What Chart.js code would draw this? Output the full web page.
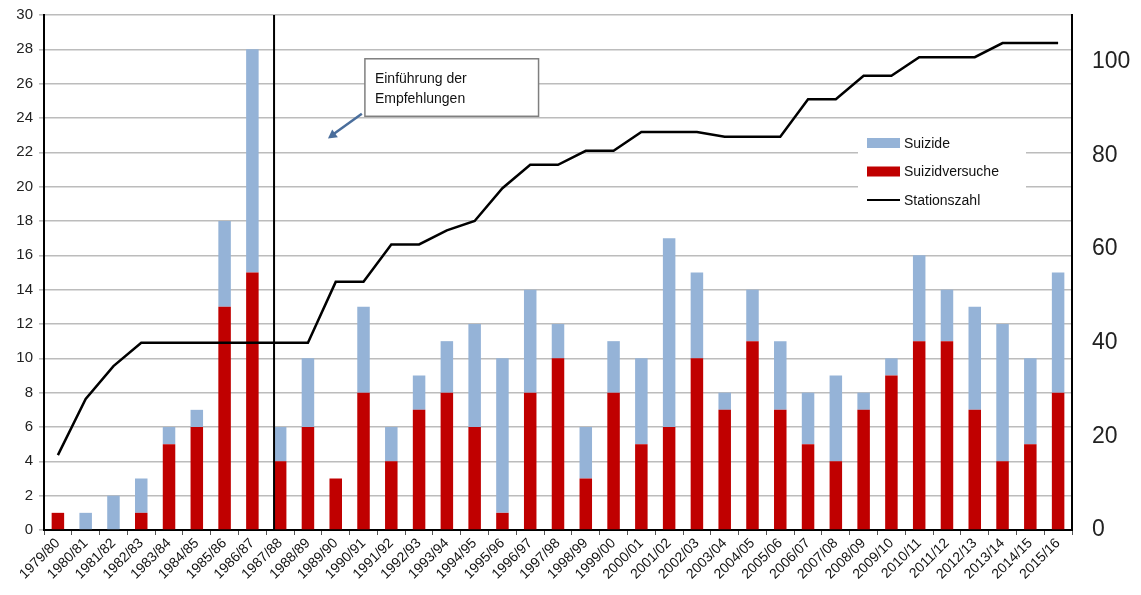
<!DOCTYPE html>
<html>
<head>
<meta charset="utf-8">
<script src="https://cdn.jsdelivr.net/npm/chart.js@4/dist/chart.umd.min.js"></script>
<style>
  html, body { margin: 0; padding: 0; background: #fff; }
  #wrap { width: 1141px; height: 595px; position: relative; }
</style>
</head>
<body>
<div id="wrap"><canvas id="suizidChart"></canvas></div>
<script>
const seasons = ["1979/80","1980/81","1981/82","1982/83","1983/84","1984/85","1985/86","1986/87","1987/88","1988/89",
  "1989/90","1990/91","1991/92","1992/93","1993/94","1994/95","1995/96","1996/97","1997/98","1998/99",
  "1999/00","2000/01","2001/02","2002/03","2003/04","2004/05","2005/06","2006/07","2007/08","2008/09",
  "2009/10","2010/11","2011/12","2012/13","2013/14","2014/15","2015/16"];
const suizidversuche = [1,0,0,1,5,6,13,15,4,6, 3,8,4,7,8,6,1,8,10,3, 8,5,6,10,7,11,7,5,4,7, 9,11,11,7,4,5,8];
const suizide = [0,1,2,2,1,1,5,13,2,4, 0,5,2,2,3,6,9,6,2,3, 3,5,11,5,1,3,4,3,5,1, 1,5,3,6,8,5,7];
const stationszahl = [16,28,35,40,40,40,40,40,40,40, 53,53,61,61,64,66,73,78,78,81, 81,85,85,85,84,84,84,92,92,97, 97,101,101,101,104,104,104];
const leftTicks = { min: 0, max: 30, step: 2 };
const rightTicks = { min: 0, max: 110, step: 20, shownMax: 100 };
const introIndex = 7.78; // Einführung der Empfehlungen
const noteText = ["Einführung der", "Empfehlungen"];

const fontName = "'Liberation Sans', Arial, sans-serif";

// vertical marker line, annotation box with arrow, legend inside plot
const overlayPlugin = {
  id: "overlay",
  afterDatasetsDraw(chart) {
    const ctx = chart.ctx;
    const x = chart.scales.x, y = chart.scales.y;
    const area = chart.chartArea;
    ctx.save();

    // Einführung line
    let lx = x.getPixelForValue(introIndex);
    ctx.strokeStyle = "#000";
    ctx.lineWidth = 2;
    ctx.beginPath();
    ctx.moveTo(lx, area.top);
    ctx.lineTo(lx, area.bottom);
    ctx.stroke();

    // note box
    let bx1 = x.getPixelForValue(11.05), bx2 = x.getPixelForValue(17.3);
    let by1 = y.getPixelForValue(27.45), by2 = y.getPixelForValue(24.1);
    ctx.fillStyle = "#fff";
    ctx.fillRect(bx1, by1, bx2 - bx1, by2 - by1);
    ctx.strokeStyle = "#7f7f7f";
    ctx.lineWidth = 1.5;
    ctx.strokeRect(bx1, by1, bx2 - bx1, by2 - by1);
    ctx.fillStyle = "#111";
    ctx.font = "14px " + fontName;
    ctx.textBaseline = "middle";
    ctx.textAlign = "left";
    ctx.fillText(noteText[0], bx1 + 10, by1 + 20);
    ctx.fillText(noteText[1], bx1 + 10, by1 + 40);

    // arrow
    let ax1 = x.getPixelForValue(10.94), ay1 = y.getPixelForValue(24.25);
    let ax2 = x.getPixelForValue(9.72), ay2 = y.getPixelForValue(22.8);
    ctx.strokeStyle = "#4a6e9c";
    ctx.fillStyle = "#4a6e9c";
    ctx.lineWidth = 2.5;
    ctx.beginPath();
    ctx.moveTo(ax1, ay1);
    ctx.lineTo(ax2 + 5, ay2 - 4);
    ctx.stroke();
    let ang = Math.atan2(ay2 - ay1, ax2 - ax1);
    ctx.beginPath();
    ctx.moveTo(ax2, ay2);
    ctx.lineTo(ax2 - 10 * Math.cos(ang - 0.5), ay2 - 10 * Math.sin(ang - 0.5));
    ctx.lineTo(ax2 - 10 * Math.cos(ang + 0.5), ay2 - 10 * Math.sin(ang + 0.5));
    ctx.closePath();
    ctx.fill();

    // legend
    let lgX = area.right - 214, lgY = area.top + 114;
    ctx.fillStyle = "#fff";
    ctx.fillRect(lgX, lgY, 168, 84);
    ctx.font = "14px " + fontName;
    ctx.textBaseline = "middle";
    let items = [
      { ds: chart.data.datasets[2], kind: "box" },
      { ds: chart.data.datasets[1], kind: "box" },
      { ds: chart.data.datasets[0], kind: "line" }
    ];
    items.forEach(function (it, i) {
      let cy = lgY + 14 + i * 28.5;
      if (it.kind === "box") {
        ctx.fillStyle = it.ds.backgroundColor;
        ctx.fillRect(lgX + 9, cy - 5, 33, 10);
      } else {
        ctx.strokeStyle = it.ds.borderColor;
        ctx.lineWidth = 2;
        ctx.beginPath();
        ctx.moveTo(lgX + 9, cy);
        ctx.lineTo(lgX + 42, cy);
        ctx.stroke();
      }
      ctx.fillStyle = "#111";
      ctx.fillText(it.ds.label, lgX + 46, cy + 1);
    });
    ctx.restore();
  }
};

const ctx = document.getElementById("suizidChart").getContext("2d");
new Chart(ctx, {
  data: {
    labels: seasons,
    datasets: [
      {
        type: "line",
        label: "Stationszahl",
        data: stationszahl,
        yAxisID: "y1",
        borderColor: "#000",
        borderWidth: 2.5,
        pointRadius: 0,
        tension: 0,
        order: 0
      },
      {
        type: "bar",
        label: "Suizidversuche",
        data: suizidversuche,
        yAxisID: "y",
        backgroundColor: "#c00000",
        stack: "s",
        order: 1,
        barPercentage: 0.45,
        categoryPercentage: 1
      },
      {
        type: "bar",
        label: "Suizide",
        data: suizide,
        yAxisID: "y",
        backgroundColor: "#95b3d7",
        stack: "s",
        order: 1,
        barPercentage: 0.45,
        categoryPercentage: 1
      }
    ]
  },
  options: {
    responsive: true,
    maintainAspectRatio: false,
    animation: false,
    layout: { padding: { top: 14, left: 0, right: 0, bottom: 0 } },
    plugins: {
      legend: { display: false },
      tooltip: { enabled: false }
    },
    scales: {
      x: {
        stacked: true,
        grid: { drawOnChartArea: false, drawTicks: true, tickLength: 5, color: "#555" },
        border: { color: "#000", width: 2 },
        ticks: {
          minRotation: 45, maxRotation: 45, autoSkip: false, padding: 0,
          color: "#111", font: { family: fontName, size: 14 }
        },
        afterFit: function (scale) { scale.height = 65; }
      },
      y: {
        stacked: true,
        position: "left",
        min: leftTicks.min, max: leftTicks.max,
        grid: { color: "#bcbcbc", lineWidth: 1.6, tickLength: 5 },
        border: { color: "#000", width: 2 },
        ticks: { stepSize: leftTicks.step, padding: 6, color: "#222", font: { family: fontName, size: 15 } },
        afterFit: function (scale) { scale.width = 44; }
      },
      y1: {
        position: "right",
        min: rightTicks.min, max: rightTicks.max,
        grid: { drawOnChartArea: false, drawTicks: true, tickLength: 19, tickColor: "rgba(0,0,0,0)" },
        border: { color: "#000", width: 2 },
        ticks: { stepSize: rightTicks.step, padding: 1, color: "#222", font: { family: fontName, size: 23 } },
        afterBuildTicks: function (scale) {
          scale.ticks = scale.ticks.filter(function (t) { return t.value <= rightTicks.shownMax; });
        },
        afterFit: function (scale) { scale.width = 69; }
      }
    }
  },
  plugins: [overlayPlugin]
});
</script>
</body>
</html>
